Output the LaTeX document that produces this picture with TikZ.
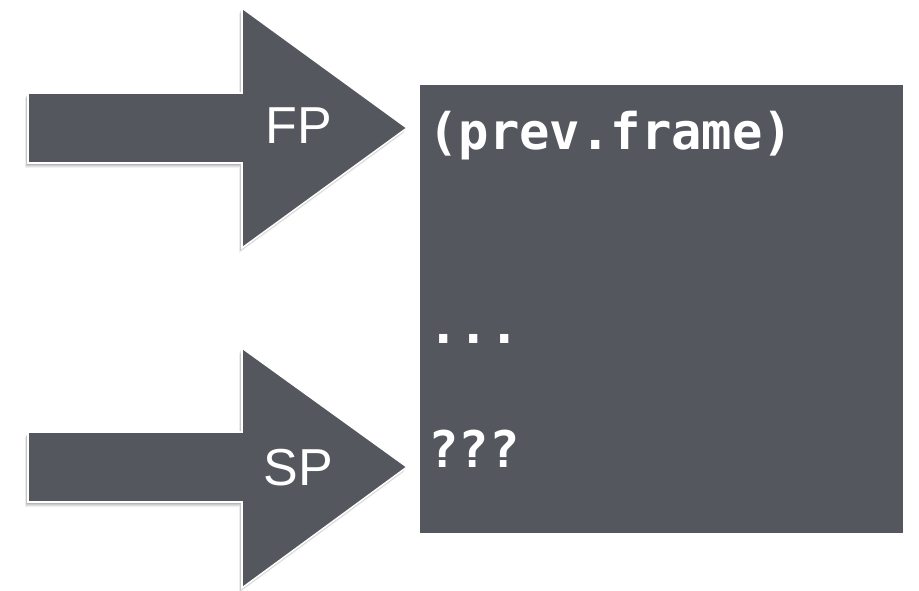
\documentclass[tikz,border=0pt]{standalone}
\usepackage{fontspec}
\setmainfont{Liberation Sans}
\newfontfamily\codefont{DejaVu Sans Mono}
\definecolor{slate}{RGB}{84,87,94}
\tikzset{
  bigarrow/.style={fill=slate, draw=white, line width=1.6pt, line join=miter},
  arrowshadow/.style={fill=black, draw=none},
  arrowlabel/.style={text=white, font=\fontsize{52}{52}\selectfont, anchor=base, inner sep=0pt},
  codetext/.style={text=white, font=\codefont\bfseries\fontsize{50.5}{50.5}\selectfont, anchor=base west, inner sep=0pt},
  framebox/.style={fill=slate, draw=none}
}
\begin{document}
\begin{tikzpicture}[x=1pt,y=-1pt]
\useasboundingbox (0,0) rectangle (919,591);
% soft shadows
\foreach \dx/\dy/\op in {-3/5/0.05,-2.5/4/0.07,-2/3/0.09,-1.5/2/0.10}{
  \begin{scope}[shift={(\dx,\dy)}]
    \fill[arrowshadow, opacity=\op] (28,93) -- (242,93) -- (242,8) -- (407,128) -- (242,248) -- (242,163) -- (28,163) -- cycle;
    \fill[arrowshadow, opacity=\op] (28,432) -- (242,432) -- (242,348) -- (407,467) -- (242,588) -- (242,502) -- (28,502) -- cycle;
  \end{scope}
}
% arrows
\draw[bigarrow] (28,93) -- (242,93) -- (242,8) -- (407,128) coordinate (fptip) -- (242,248) -- (242,163) -- (28,163) -- cycle;
\draw[bigarrow] (28,432) -- (242,432) -- (242,348) -- (407,467) coordinate (sptip) -- (242,588) -- (242,502) -- (28,502) -- cycle;
\node[arrowlabel] (fp) at (299,144) {FP};
\node[arrowlabel] (sp) at (298,485) {SP};
% stack frame box
\fill[framebox] (420,85) rectangle (903,533);
\node[codetext] (prev) at (428,150) {(prev.frame)};
\node[codetext] (dots) at (428,343) {...};
\node[codetext] (qqq) at (428,467) {???};
\end{tikzpicture}
\end{document}
